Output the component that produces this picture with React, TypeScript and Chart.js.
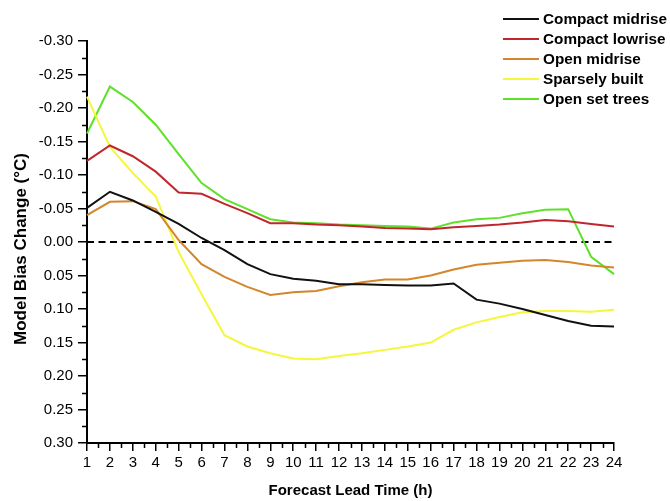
import React, { useEffect, useRef } from "react";
import { Chart, registerables } from "chart.js";

Chart.register(...registerables);

const hours = [1, 2, 3, 4, 5, 6, 7, 8, 9, 10, 11, 12, 13, 14, 15, 16, 17, 18, 19, 20, 21, 22, 23, 24];

const compactMidrise = [-0.051, -0.075, -0.062, -0.045, -0.027, -0.006, 0.012, 0.033, 0.048, 0.055, 0.058, 0.063, 0.063, 0.064, 0.065, 0.065, 0.062, 0.086, 0.092, 0.1, 0.109, 0.118, 0.125, 0.126];
const compactLowrise = [-0.121, -0.144, -0.128, -0.105, -0.074, -0.072, -0.057, -0.043, -0.028, -0.028, -0.026, -0.025, -0.023, -0.021, -0.02, -0.019, -0.022, -0.024, -0.026, -0.029, -0.033, -0.031, -0.027, -0.023];
const openMidrise = [-0.04, -0.06, -0.061, -0.049, -0.003, 0.033, 0.052, 0.067, 0.079, 0.075, 0.073, 0.066, 0.06, 0.056, 0.056, 0.05, 0.041, 0.034, 0.031, 0.028, 0.027, 0.03, 0.035, 0.038];
const sparselyBuilt = [-0.217, -0.142, -0.103, -0.068, 0.015, 0.078, 0.139, 0.156, 0.166, 0.174, 0.175, 0.17, 0.166, 0.161, 0.156, 0.15, 0.131, 0.12, 0.112, 0.105, 0.103, 0.103, 0.104, 0.101];
const openSetTrees = [-0.162, -0.232, -0.209, -0.175, -0.131, -0.088, -0.064, -0.049, -0.034, -0.029, -0.028, -0.026, -0.025, -0.024, -0.023, -0.02, -0.029, -0.034, -0.036, -0.043, -0.048, -0.049, 0.022, 0.048];
const zeroLine = hours.map(() => 0);

const seriesNames = ["Compact midrise", "Compact lowrise", "Open midrise", "Sparsely built", "Open set trees"];
const seriesColors = ["#111111", "#c0272d", "#d4862b", "#f6f63a", "#5fe02a"];
const seriesValues = [compactMidrise, compactLowrise, openMidrise, sparselyBuilt, openSetTrees];

const yMin = -0.3;
const yMax = 0.3;
const yStep = 0.05;

const FONT = "'Liberation Sans', Arial, Helvetica, sans-serif";

const fmt = (v: number) => (Math.abs(v) < 1e-9 ? "0.00" : v.toFixed(2));

const decorPlugin = {
  id: "decor",
  afterDraw(chart: any) {
    const ctx = chart.ctx;
    const area = chart.chartArea;
    const xs = chart.scales.x;
    const ys = chart.scales.y;
    ctx.save();
    // minor ticks
    ctx.strokeStyle = "#000";
    ctx.lineWidth = 1.5;
    ctx.beginPath();
    for (let v = yMin + yStep / 2; v < yMax; v += yStep) {
      const py = Math.round(ys.getPixelForValue(v)) + 0.5;
      ctx.moveTo(area.left, py);
      ctx.lineTo(area.left - 5, py);
    }
    for (let i = 0; i < hours.length - 1; i++) {
      const px = Math.round(xs.getPixelForValue(i + 0.5)) + 0.5;
      ctx.moveTo(px, area.bottom);
      ctx.lineTo(px, area.bottom + 5);
    }
    ctx.stroke();

    // y title
    ctx.fillStyle = "#000";
    ctx.font = `bold 17px ${FONT}`;
    ctx.textAlign = "center";
    ctx.textBaseline = "alphabetic";
    ctx.translate(26, (area.top + area.bottom) / 2 + 7);
    ctx.rotate(-Math.PI / 2);
    ctx.fillText("Model Bias Change (\u00B0C)", 0, 0);
    ctx.restore();

    // legend
    ctx.save();
    ctx.font = `bold 15.3px ${FONT}`;
    ctx.textAlign = "left";
    ctx.textBaseline = "middle";
    const lineStart = area.right - 111;
    const lineEnd = area.right - 75;
    const textX = area.right - 71;
    seriesNames.forEach((name, i) => {
      const y = area.top - 22 + i * 20;
      ctx.strokeStyle = seriesColors[i];
      ctx.lineWidth = 2;
      ctx.beginPath();
      ctx.moveTo(lineStart, y);
      ctx.lineTo(lineEnd, y);
      ctx.stroke();
      ctx.fillStyle = "#000";
      ctx.fillText(name, textX, y + 1);
    });
    ctx.restore();
  },
};

export default function App() {
  const ref = useRef<HTMLCanvasElement | null>(null);

  useEffect(() => {
    if (!ref.current) return;
    const datasets: any[] = seriesValues.map((vals, i) => ({
      label: seriesNames[i],
      data: vals,
      borderColor: seriesColors[i],
      backgroundColor: seriesColors[i],
      borderWidth: 2,
      pointRadius: 0,
      tension: 0,
      fill: false,
    }));
    datasets.push({
      label: "zero",
      data: zeroLine,
      borderColor: "#000",
      borderWidth: 2,
      borderDash: [7, 4.5],
      pointRadius: 0,
      fill: false,
    });

    const chart = new Chart(ref.current, {
      type: "line",
      data: { labels: hours.map(String), datasets },
      plugins: [decorPlugin],
      options: {
        responsive: false,
        animation: false,
        layout: { padding: { left: 0, top: 41, right: 56, bottom: 0 } },
        plugins: { legend: { display: false }, tooltip: { enabled: false } },
        scales: {
          x: {
            type: "category",
            offset: false,
            grid: { display: true, drawOnChartArea: false, drawTicks: true, tickLength: 8, color: "#000", lineWidth: 1.5 },
            border: { display: true, color: "#000", width: 2 },
            ticks: { color: "#000", font: { family: FONT, size: 15 }, padding: 3, maxRotation: 0, autoSkip: false },
            title: {
              display: true,
              text: "Forecast Lead Time (h)",
              color: "#000",
              font: { family: FONT, size: 15, weight: "bold" },
              padding: { top: 0, bottom: 1 },
            },
            afterFit: (s: any) => {
              s.height = 58;
            },
          },
          y: {
            type: "linear",
            reverse: true,
            min: yMin,
            max: yMax,
            grid: { display: true, drawOnChartArea: false, drawTicks: true, tickLength: 9, color: "#000", lineWidth: 1.5 },
            border: { display: true, color: "#000", width: 2 },
            ticks: {
              stepSize: yStep,
              color: "#000",
              font: { family: FONT, size: 15 },
              padding: 5,
              callback: (v: any) => fmt(Number(v)),
            },
            afterFit: (s: any) => {
              s.width = 87;
            },
          },
        },
      },
    });
    return () => chart.destroy();
  }, []);

  return (
    <div style={{ position: "absolute", left: 0, top: 0, width: 670, height: 501, background: "#fff" }}>
      <canvas ref={ref} width={670} height={501} />
    </div>
  );
}
